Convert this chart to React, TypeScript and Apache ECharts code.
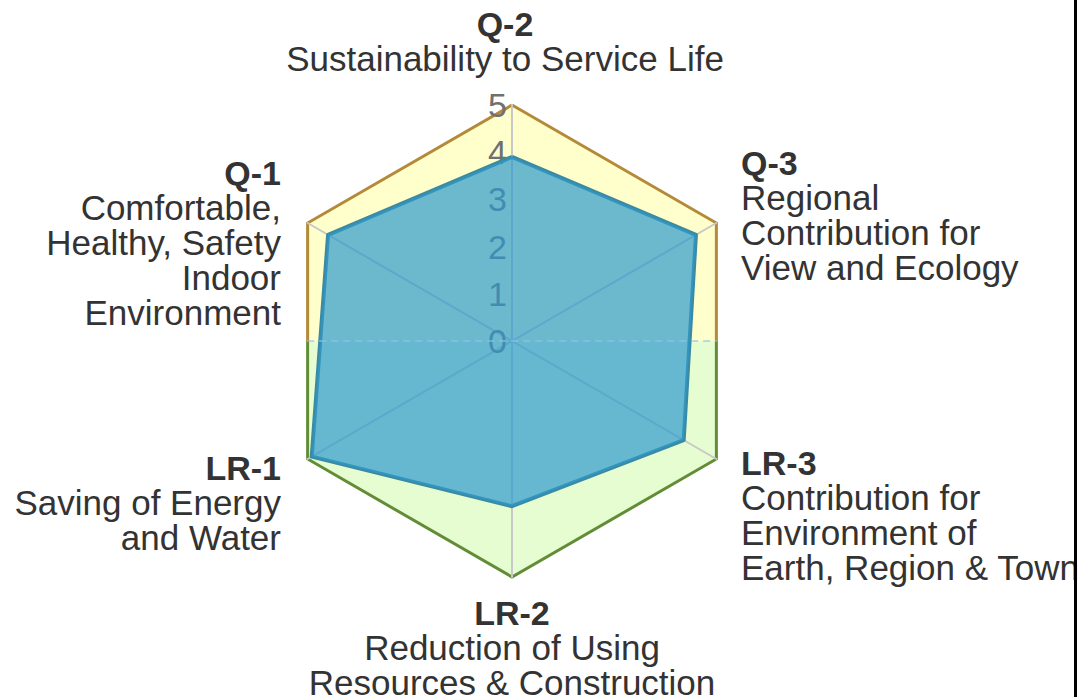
import React, { useEffect, useRef } from "react";
import * as echarts from "echarts";

// ---- data ----
const indicatorCodes = ["Q-2", "Q-1", "LR-1", "LR-2", "LR-3", "Q-3"];
const indicatorDescriptions = [
  "Sustainability to Service Life",
  "Comfortable,\nHealthy, Safety\nIndoor\nEnvironment",
  "Saving of Energy\nand Water",
  "Reduction of Using\nResources & Construction",
  "Contribution for\nEnvironment of\nEarth, Region & Town",
  "Regional\nContribution for\nView and Ecology",
];
const scores = [3.9, 4.5, 4.9, 3.5, 4.2, 4.5];
const maxScore = 5;
const tickStep = 1;

const FONT = "'Liberation Sans', Arial, sans-serif";

export default function App() {
  const ref = useRef<HTMLDivElement>(null);

  useEffect(() => {
    if (!ref.current) return;
    const chart = echarts.init(ref.current, undefined, { renderer: "svg" });
    const cx = 512;
    const cy = 341;
    const R = 236;
    const halfW = (R * Math.sqrt(3)) / 2;

    // label layout: [x, top, align]
    const labelLayout: [number, number, string][] = [
      [505, 6, "center"],
      [281, 155, "right"],
      [281, 450, "right"],
      [512, 595, "center"],
      [741, 445, "left"],
      [741, 145, "left"],
    ];

    const labelGraphics = indicatorCodes.map((code, i) => {
      const [x, y, align] = labelLayout[i];
      const lines = indicatorDescriptions[i].split("\n").map((l) => `{d|${l}}`);
      return {
        type: "text",
        x,
        y,
        z: 10,
        style: {
          text: [`{t|${code}}`, ...lines].join("\n"),
          align,
          textAlign: align,
          verticalAlign: "top",
          textVerticalAlign: "top",
          fill: "#333",
          font: `35px ${FONT}`,
          rich: {
            t: { fontSize: 34, fontWeight: "bold", lineHeight: 35, fontFamily: FONT, fill: "#333", align },
            d: { fontSize: 35, lineHeight: 35, fontFamily: FONT, fill: "#333", align },
          },
        },
      };
    });

    const borderGradient = new echarts.graphic.LinearGradient(0, 0, 0, 1, [
      { offset: 0, color: "#b48a38" },
      { offset: 0.5, color: "#b48a38" },
      { offset: 0.5, color: "#628c36" },
      { offset: 1, color: "#628c36" },
    ]);
    const fillGradient = new echarts.graphic.LinearGradient(0, 0, 0, 1, [
      { offset: 0, color: "#ffffcc" },
      { offset: 0.5, color: "#ffffcc" },
      { offset: 0.5, color: "#e6fdd2" },
      { offset: 1, color: "#e6fdd2" },
    ]);

    chart.setOption({
      animation: false,
      backgroundColor: "#fff",
      grid: [
        { left: cx - halfW, width: 2 * halfW, top: cy - R, height: R, containLabel: false },
        { left: cx, width: halfW, top: cy - R, height: R, containLabel: false },
      ],
      xAxis: [
        {
          gridIndex: 0,
          type: "value",
          min: -maxScore,
          max: maxScore,
          z: 5,
          axisLine: {
            show: true,
            onZero: false,
            lineStyle: { color: "rgba(140,195,235,0.8)", width: 1.5, type: [6, 6] },
          },
          axisTick: { show: false },
          axisLabel: { show: false },
          splitLine: { show: false },
        },
        {
          gridIndex: 1,
          type: "value",
          min: 0,
          max: maxScore,
          show: false,
        },
      ],
      yAxis: [
        {
          gridIndex: 0,
          type: "value",
          min: 0,
          max: maxScore,
          show: false,
        },
        {
          gridIndex: 1,
          type: "value",
          min: 0,
          max: maxScore,
          interval: tickStep,
          position: "left",
          z: 0,
          axisLine: { show: false, onZero: false },
          axisTick: { show: false },
          splitLine: { show: false },
          axisLabel: {
            show: true,
            margin: 5,
            color: "#707070",
            fontSize: 34,
            fontFamily: FONT,
          },
        },
      ],
      radar: {
        center: [cx, cy],
        radius: R,
        startAngle: 90,
        shape: "polygon",
        splitNumber: 1,
        indicator: indicatorCodes.map((c) => ({ name: c, min: 0, max: maxScore })),
        axisName: { show: false },
        axisLine: { show: true, lineStyle: { color: "#c8c8c8", width: 2 } },
        splitLine: { show: true, lineStyle: { color: borderGradient, width: 3 } },
        splitArea: { show: true, areaStyle: { color: [fillGradient], opacity: 1 } },
        axisTick: { show: false },
        axisLabel: { show: false },
      },
      series: [
        {
          type: "radar",
          z: 3,
          symbol: "none",
          data: [
            {
              value: scores,
              name: "Score",
              lineStyle: { width: 4, color: "#3b8aa2" },
              areaStyle: { color: "#2d9acd", opacity: 0.7 },
            },
          ],
        },
      ],
      graphic: [
        ...labelGraphics,
        {
          type: "rect",
          shape: { x: 1074, y: 0, width: 3, height: 697 },
          style: { fill: "#000" },
          z: 10,
        },
      ],
    });

    return () => chart.dispose();
  }, []);

  return (
    <div
      ref={ref}
      style={{ position: "fixed", left: 0, top: 0, width: 1092, height: 697 }}
    />
  );
}
